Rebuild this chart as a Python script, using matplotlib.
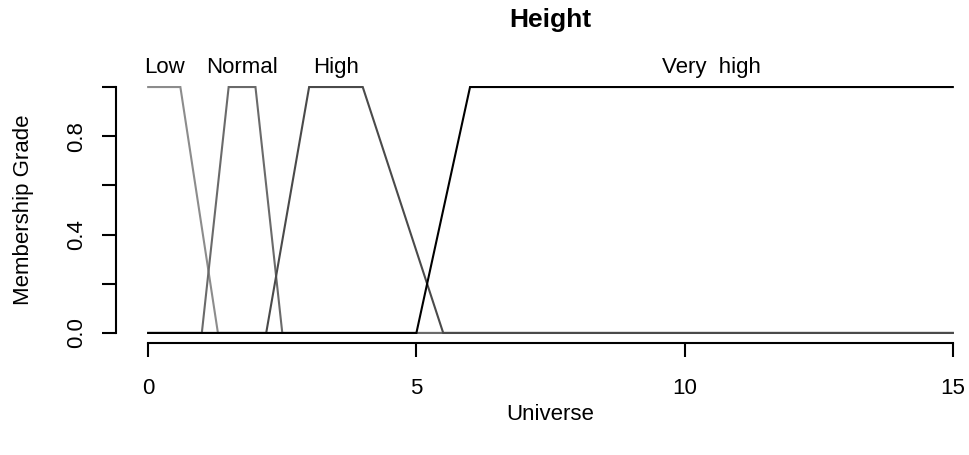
import matplotlib
matplotlib.use("Agg")
import matplotlib.pyplot as plt

plt.rcParams['font.family'] = ['Liberation Sans', 'DejaVu Sans']

# membership functions (breakpoints on the universe and grades)
set_names = ["Low", "Normal", "High", "Very  high"]
low_x = [0, 0.6, 1.3, 15]
low_y = [1, 1, 0, 0]
normal_x = [0, 1, 1.5, 2, 2.5, 15]
normal_y = [0, 0, 1, 1, 0, 0]
high_x = [0, 2.2, 3, 4, 5.5, 15]
high_y = [0, 0, 1, 1, 0, 0]
very_high_x = [0, 5, 6, 15]
very_high_y = [0, 0, 1, 1]
set_colors = ["#8c8c8c", "#6a6a6a", "#4a4a4a", "#000000"]

x_ticks = [0, 5, 10, 15]
y_ticks = [0, 0.2, 0.4, 0.6, 0.8, 1.0]
y_ticklabels = ["0.0", "", "0.4", "", "0.8", ""]

W, H = 969, 455
fig = plt.figure(figsize=(W / 100, H / 100), dpi=100)
left, right, bottom, top = 116, 985, 342.8, 77.2
ax = fig.add_axes([left / W, (H - bottom) / H, (right - left) / W, (bottom - top) / H])

xs = [low_x, normal_x, high_x, very_high_x]
ys = [low_y, normal_y, high_y, very_high_y]
for name, x, y, c in zip(set_names, xs, ys, set_colors):
    ax.plot(x, y, color=c, lw=1.5, solid_joinstyle='miter')
    core = [xi for xi, yi in zip(x, y) if yi == 1]
    ax.text((min(core) + max(core)) / 2, 1.081, name, ha='center', va='center',
            fontsize=16, clip_on=False)

ax.set_xlim(-0.6, 15.6)
ax.set_ylim(-0.04, 1.04)
for s in ['top', 'right']:
    ax.spines[s].set_visible(False)
ax.spines['bottom'].set_bounds(0, 15)
ax.spines['left'].set_bounds(0, 1)
for s in ['bottom', 'left']:
    ax.spines[s].set_linewidth(1.5)

ax.set_xticks(x_ticks)
ax.set_xticklabels([str(t) for t in x_ticks])
ax.set_yticks(y_ticks)
ax.set_yticklabels(y_ticklabels, rotation=90, va='center')
ax.tick_params(axis='both', length=10, width=1.5, labelsize=16)
ax.tick_params(axis='x', pad=15)
ax.tick_params(axis='y', pad=11)

ax.set_xlabel("Universe", fontsize=16)
ax.xaxis.set_label_coords(0.5, -0.27)
ax.xaxis.label.set_va('center')
ax.set_ylabel("Membership Grade", fontsize=16)
ax.yaxis.set_label_coords(-0.107, 0.5)
ax.yaxis.label.set_va('center')
ax.text(0.5, 1.215, "Height", transform=ax.transAxes, ha='center', va='center',
        fontsize=19, fontweight='bold')

fig.savefig("out.png", dpi=100)
